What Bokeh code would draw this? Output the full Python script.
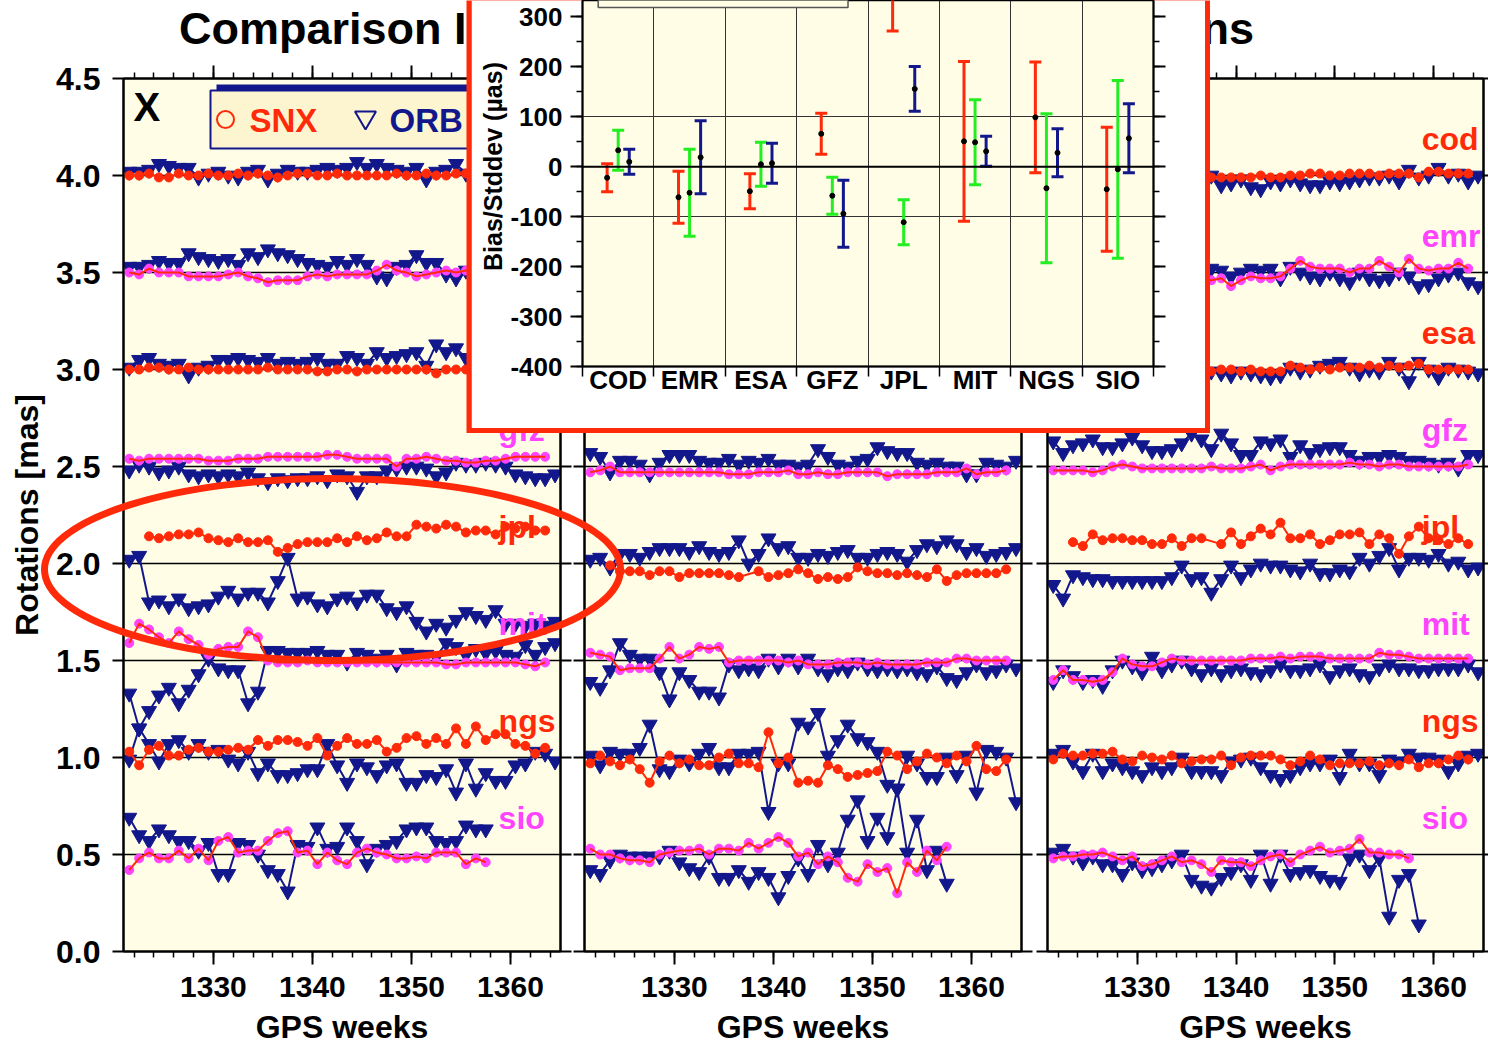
import math
from bokeh.plotting import figure
from bokeh.models import (Range1d, LinearAxis, SingleIntervalTicker, FixedTicker, Grid, Span,
                          CustomJSTickFormatter, PrintfTickFormatter, ColumnDataSource, GridBox, Label, Column)
from bokeh.transform import dodge
from bokeh.core.properties import value
from bokeh.embed import file_html
from bokeh.resources import INLINE

# ------------------------------------------------------------------ data
WEEKS = list(range(1321, 1365))          # GPS weeks (points are plotted at mid-week)
CENTERS = ["cod", "emr", "esa", "gfz", "jpl", "mit", "ngs", "sio"]
OFFSETS = [4.0, 3.5, 3.0, 2.5, 2.0, 1.5, 1.0, 0.5]
N = None
# residual rotations, units of 0.01 mas (None = no solution that week)
X_COD_SNX = [0,0,1,-1,-1,1,0,0,1,0, 0,1,0,1,0,-1,0,1,1,0, 0,1,0,0,0,0,0,1,0,0, 1,0,0,1,1,2,2,1,2,1, 1,1,1,1]
X_COD_ORB = [2,2,3,6,5,4,4,-1,1,2, 0,-1,2,3,-2,1,3,2,2,3, 4,3,4,7,4,6,4,3,2,4, -2,2,3,6,1,2,3,4,2,3, 1,2,3,2]
X_EMR_SNX = [0,-1,2,0,0,0,-2,-2,-2,-2, -1,0,-2,-3,-5,-4,-4,-4,-2,-1, -2,-1,-1,-1,-1,1,4,1,0,-2, -1,0,1,0,1,1,0,1,0,0, 1,0,0,0]
X_EMR_ORB = [3,3,4,6,5,5,10,8,7,6, 7,4,10,8,12,10,9,7,5,4, 3,6,4,7,4,-2,-3,3,4,9, 5,5,-1,-3,1,3,2,4,3,2, 4,3,2,3]
X_ESA_SNX = [0,0,1,1,0,0,1,0,0,0, 0,0,0,0,1,0,0,0,0,-1, -1,0,0,-1,0,0,0,0,0,0, 0,-2,0,0,0,0,0,1,0,0, 1,0,0,0]
X_ESA_ORB = [1,5,6,3,2,3,-3,1,2,5, 5,6,5,4,6,3,4,3,4,6, 3,3,7,6,3,9,6,7,8,9, 2,13,9,11,6,8,6,7,5,6, 4,5,6,5]
X_GFZ_SNX = [4,3,4,4,4,4,4,4,3,3, 3,4,4,4,5,5,5,5,5,5, 6,6,5,4,4,4,4,0,4,4, 5,4,3,3,2,2,3,3,4,5, 5,5,5,N]
X_GFZ_ORB = [-2,1,0,-3,-2,0,-4,-5,-4,-5, -4,-5,-3,-6,-8,-6,-7,-6,-6,-5, -7,-4,-5,-13,-5,-5,-2,-1,0,0, -1,-5,-3,2,1,1,2,1,0,-4, -5,-6,-6,-4]
X_JPL_SNX = [N,N,14,13,14,15,15,16,13,12, 11,13,11,11,12,6,8,10,11,11, 11,13,11,14,12,13,16,14,14,20, 19,18,20,19,16,17,17,15,19,18, 19,17,17,N]
X_JPL_ORB = [2,4,-20,-19,-22,-18,-23,-22,-21,-17, -14,-18,-15,-15,-20,-9,3,-18,-17,-21, -22,-18,-17,-20,-16,-16,-23,-25,-22,-30, -35,-31,-33,-29,-25,-27,-29,-24,-31,-31, -32,-31,-32,-30]
X_MIT_SNX = [9,19,16,12,9,15,11,8,3,6, 7,7,15,12,0,-1,-1,-1,0,-1, -1,-1,-1,-1,-1,-1,-1,-1,-1,-1, -1,-1,-2,-2,-1,-1,-1,-1,-1,-1, -2,-3,-1,N]
X_MIT_ORB = [-17,-35,-26,-18,-14,-22,-15,-7,1,-4, -5,-5,-22,-16,5,5,4,4,4,5, 3,3,-1,4,3,1,3,-2,4,3, 3,2,9,7,3,6,4,5,3,2, 8,3,7,9]
X_NGS_SNX = [3,-4,4,6,1,1,4,5,3,3, 4,5,4,9,6,9,9,8,6,10, 1,6,10,7,7,9,3,5,10,11, 7,10,7,15,7,16,9,12,12,7, 6,2,5,N]
X_NGS_ORB = [-1,15,7,-2,7,9,3,7,3,4, -1,-3,3,-8,-3,-9,-9,-8,-6,-6, 7,-4,-13,-3,-5,-9,-4,-3,-13,-13, -9,-10,-6,-18,-3,-16,-8,-12,-12,-4, -3,3,2,-2]
X_SIO_SNX = [-8,-2,1,-2,-2,2,-2,3,-3,7, 9,1,2,2,7,11,12,1,2,-5, 1,-3,-5,1,3,1,0,-2,-2,-1, -2,1,1,1,-5,-2,-4,N,N,N, N,N,N,N]
X_SIO_ORB = [19,10,7,13,10,7,7,2,6,-10, -10,6,5,0,-8,-10,-19,5,4,14, 3,4,14,7,-5,3,5,7,13,14, 14,7,6,7,15,13,13,N,N,N, N,N,N,N]

Y_COD_SNX = [1,0,1,0,-1,0,1,0,0,1, 0,-1,0,0,1,0,0,-1,0,1, 0,0,1,0,-1,0,0,1,0,0, -1,0,1,0,0,1,0,0,-1,0, 1,0,0,N]
Y_COD_ORB = [3,2,4,1,3,5,2,3,4,2, 1,3,5,3,2,4,3,1,2,4, 3,5,2,3,1,4,3,2,5,3, 2,4,3,1,3,4,2,3,5,2, 3,4,2,3]
Y_EMR_SNX = [0,-1,1,0,-2,-1,0,1,2,0, -1,-2,0,1,0,-1,1,2,1,0, -1,0,1,0,-2,-1,0,1,0,0, 1,2,1,0,-1,0,1,0,-1,0, 1,0,0,N]
Y_EMR_ORB = [4,6,3,5,8,4,2,5,7,3, 6,4,2,5,3,7,4,6,3,2, 5,8,4,3,6,2,5,4,7,3, 5,2,4,6,3,5,4,2,6,3, 4,5,3,4]
Y_ESA_SNX = [0,0,1,0,0,-1,0,0,1,0, 0,0,-1,0,1,0,0,0,1,0, 0,-1,0,0,0,1,0,0,0,-1, 0,0,1,0,0,0,1,0,0,0, -1,0,0,N]
Y_ESA_ORB = [5,3,6,4,7,5,3,6,8,4, 5,7,3,6,4,5,8,6,4,3, 6,5,7,4,3,6,5,8,4,6, 3,5,7,4,6,5,3,6,4,5, 7,4,5,6]
Y_GFZ_SNX = [-3,-2,0,-3,-3,-3,-3,-3,-3,-3, -3,-3,-3,-3,-4,-4,-4,-3,-3,-3, -2,-4,-4,-3,-4,-4,-3,-3,-3,-3, -5,-4,-4,-4,-4,-3,-3,-3,-1,-4, -3,-3,-2,N]
Y_GFZ_ORB = [7,5,-3,3,3,1,-4,2,6,6, 6,3,2,2,4,1,3,2,4,1, 1,0,1,9,5,1,0,3,4,10, 8,7,7,2,1,2,0,0,-4,-4, 2,1,0,3]
Y_JPL_SNX = [N,N,-1,-4,-4,-4,-6,-4,-4,-7, -5,-5,-5,-5,-6,-7,N,-4,-7,-6, -5,-3,-5,-8,-7,-8,-7,-2,-4,-5, -5,-6,-5,-6,-7,-3,-9,-6,-5,-5, -5,-5,-3,N]
Y_JPL_ORB = [2,3,-2,5,5,3,6,8,8,8, 6,9,6,5,6,12,0,5,13,8, 9,3,3,5,4,6,7,3,3,5, 6,5,1,7,10,9,12,10,6,8, 4,5,6,8]
Y_MIT_SNX = [4,3,2,-5,-4,-4,-4,1,7,1, 3,7,6,7,-1,0,0,0,0,0, -1,0,-2,-2,-2,-1,-1,-1,-2,-1, -2,-2,-2,-2,-1,-1,-1,1,1,0, 0,0,0,N]
Y_MIT_ORB = [-11,-14,-5,9,3,1,1,-6,-20,-6, -10,-16,-16,-19,-2,-5,-4,-5,1,-3, 1,-3,1,-4,-7,-4,-5,-1,-4,-5, -4,-5,-4,-6,-7,-3,-9,-10,-6,-2, -6,-5,-2,-4]
Y_NGS_SNX = [-3,1,-2,-4,-1,-6,-13,-2,1,-3, -1,-4,-4,0,2,-3,-3,-5,13,-3, 0,-13,-12,-13,-4,-6,-10,-9,-8,-7, 3,1,-6,-2,2,0,-3,1,-2,6, -6,-7,-1,N]
Y_NGS_ORB = [1,-4,3,2,2,5,17,-6,-7,-1, -3,2,5,-5,-5,2,2,3,-28,-3, -3,18,16,23,1,9,17,10,8,3, -14,-16,1,-3,-10,-10,0,-9,1,-18, 4,3,0,-23]
Y_SIO_SNX = [3,0,0,-2,-3,-3,-4,0,1,2, 2,3,0,3,3,2,6,3,6,9, 6,-1,1,-5,-1,-4,-12,-14,-5,-9, -7,-20,-4,-9,2,-3,4,N,N,N, N,N,N,N]
Y_SIO_ORB = [-8,-10,-3,0,-1,-1,-1,-1,2,-4, -7,-9,-1,-12,-12,-8,-14,-9,-12,-22, -11,-2,-10,5,-5,1,18,28,7,19, 9,34,1,18,-8,2,-15,N,N,N, N,N,N,N]

Z_COD_SNX = [-2,-2,-1,-2,-1,-2,-1,-1,-2,-1, -2,-1,-1,-2,-1,-1,-1,-1,-1,-1, -1,0,-1,-1,0,0,1,1,0,0, 1,1,1,0,1,1,1,-1,2,2, 1,1,1,N]
Z_COD_ORB = [-3,-4,-2,-5,-3,-4,-3,-5,-4,-3, -4,-2,-3,-4,-3,-2,0,-5,-4,-2, -6,-7,-3,-4,-2,-4,-5,-5,-3,-4, -3,-2,-1,-1,0,-3,3,-1,0,4, 0,1,-3,0]
Z_EMR_SNX = [0,-1,0,-2,-1,-3,-2,-3,-2,-4, -3,-2,-3,-4,-3,-4,-4,-3,-7,-4, -2,-3,-3,-2,2,6,3,2,2,2, 0,2,2,6,3,0,7,2,1,2, 2,5,2,N]
Z_EMR_ORB = [2,3,1,2,0,1,2,1,0,2, 1,0,1,-1,0,1,2,1,-2,0, 2,1,2,-3,3,0,-2,-3,0,-3, -5,0,-3,-4,-3,0,-2,-7,-6,-3, -1,0,-5,-7]
Z_ESA_SNX = [0,0,1,0,-1,0,0,1,0,0, -1,0,0,1,0,0,-1,0,0,-1, 0,-1,-1,-1,2,1,0,1,0,1, 1,1,2,1,2,1,2,3,0,0, 0,0,0,N]
Z_ESA_ORB = [1,-1,0,-2,-1,0,-3,-1,0,-2, -1,-3,0,-1,-2,-1,-1,-2,-3,-1, -2,-3,-4,-3,1,-1,0,2,3,4, 1,-2,0,-1,4,1,-6,4,0,-4, 1,0,-1,-2]
Z_GFZ_SNX = [-2,-2,-2,-2,-3,-2,0,1,0,-1, -1,-1,-1,-1,-1,-1,0,-1,-1,-1, 0,1,-2,0,1,1,1,1,1,1, 2,1,1,0,1,1,0,0,0,0, 0,0,1,N]
Z_GFZ_ORB = [13,7,11,12,14,10,10,12,15,11, 8,8,9,12,17,14,9,17,12,6, 6,13,12,14,5,11,7,9,10,10, 6,3,5,5,6,5,3,3,2,1, 2,-1,6,6]
Z_JPL_SNX = [N,N,11,9,15,12,13,13,12,12, 10,10,13,9,13,13,N,10,16,10, 14,18,15,21,13,13,15,10,12,15, 15,16,10,15,13,5,14,19,13,12, 10,13,10,N]
Z_JPL_ORB = [-11,-18,-6,-7,-8,-8,-9,-9,-9,-9, -9,-9,-7,-1,-8,-7,-15,-8,-1,-7, -3,0,-1,-1,-3,-4,0,-5,-5,-3, -4,3,0,4,8,-3,3,3,2,5, 0,1,-3,-2]
Z_MIT_SNX = [-10,-5,-10,-10,-11,-10,-6,1,-2,-3, -3,-1,1,0,0,0,0,0,0,0, 1,1,1,2,1,2,2,2,1,1, 1,1,1,4,3,3,2,1,1,1, 1,1,1,N]
Z_MIT_ORB = [-11,-5,-8,-11,-10,-13,-5,0,-3,-6, 2,-5,-2,0,-4,-7,-4,-7,-5,-4, -6,-7,-5,-2,-5,-5,-4,-2,-8,-5, -4,-7,-8,-4,-2,-4,-4,-5,-5,-4, -4,-4,-2,-6]
Z_NGS_SNX = [-1,2,1,1,2,2,3,-1,-2,1, 0,-1,1,-3,-2,-1,-1,1,-4,0, 1,1,1,-1,-4,-2,1,-1,-4,-3, -3,-3,-2,-4,-3,-4,-1,-5,-3,-3, -1,1,-1,N]
Z_NGS_ORB = [2,4,-2,-7,2,-7,-3,-5,-7,-9, -5,-7,-5,0,-7,-7,-7,-9,-2,-1, 0,-5,-9,-11,-9,-5,-3,-3,-1,-10, 2,-3,-3,-9,-1,-2,2,0,0,-1, -7,-3,1,2]
Z_SIO_SNX = [-2,-1,-1,0,0,1,-1,-3,-1,-6, -5,-3,-1,-4,-3,-5,-9,-3,-4,-4, -6,-3,-1,0,-4,0,2,4,1,2, 3,8,1,1,0,0,-2,N,N,N, N,N,N,N]
Z_SIO_ORB = [1,3,-1,-4,-1,-5,-5,-10,-4,-8, -7,-5,-3,0,-13,-16,-17,-12,-9,-5, -13,0,-15,0,-10,-9,-8,-11,-13,-14, -2,0,-8,-2,-32,-13,-10,-36,N,N, N,N,N,N]

# inset: bias and stddev (uas) per analysis centre, for X / Y / Z rotation
INSET_CENTERS = ["COD", "EMR", "ESA", "GFZ", "JPL", "MIT", "NGS", "SIO"]
RX_BIAS = [-22, -61, -49, 66, 390, 51, 99, -45]
RX_STD = [28, 52, 35, 41, 118, 160, 111, 124]
RY_BIAS = [33, -52, 5, -58, -111, 49, -43, -5]
RY_STD = [40, 87, 44, 37, 45, 85, 149, 178]
RZ_BIAS = [10, 19, 7, -94, 156, 31, 28, 57]
RZ_STD = [25, 73, 40, 67, 45, 30, 48, 69]

TITLE = "Comparison IGS Final Orbits and SINEX Rotations"

# ------------------------------------------------------------------ style
FONT = "Liberation Sans"
RED = "#ff2a0a"
MAG = "#ff44ff"
NAVY = "#12188c"
GREEN = "#22ee22"
IVORY = "#fffde6"
W, H = 1488, 1045
FT, FB = 78, 951                      # frame top / bottom (px)
PANEL_LR = [(123, 560), (584, 1021), (1047, 1483)]
XMIN, XMAX = 1320.92, 1365.05
SNX_MARK = {"cod": RED, "emr": MAG, "esa": RED, "gfz": MAG,
            "jpl": RED, "mit": MAG, "ngs": RED, "sio": MAG}

BLANK = CustomJSTickFormatter(code="return ''")


def style_axis(ax, tick_out, minor_out=0, size="30px", standoff=12):
    ax.axis_line_color = "black"
    ax.axis_line_width = 2
    ax.major_tick_line_color = "black"
    ax.major_tick_line_width = 2
    ax.major_tick_in = 0
    ax.major_tick_out = tick_out
    ax.minor_tick_line_color = "black"
    ax.minor_tick_line_width = 1.5
    ax.minor_tick_in = 0
    ax.minor_tick_out = minor_out
    ax.major_label_text_font = FONT
    ax.major_label_text_font_style = "bold"
    ax.major_label_text_font_size = size
    ax.major_label_text_color = "black"
    ax.major_label_standoff = standoff
    ax.axis_label_text_color = "black"


def xy(vals, off):
    xs, ys = [], []
    for w, v in zip(WEEKS, vals):
        if v is not None:
            xs.append(w + 0.5)
            ys.append(off + v / 100.0)
    return xs, ys


def bare(width, height, xr, yr, fill=None):
    f = figure(width=width, height=height, x_range=xr, y_range=yr,
               x_axis_type=None, y_axis_type=None, output_backend="svg", toolbar_location=None, min_border=0)
    f.border_fill_color = fill
    f.background_fill_color = fill
    f.outline_line_color = None
    return f


def make_panel(idx, series, show_names):
    fl, fr = PANEL_LR[idx]
    p = figure(width=W, height=H, x_range=Range1d(XMIN, XMAX), y_range=Range1d(0, 4.5),
               x_axis_type=None, y_axis_type=None, output_backend="svg", toolbar_location=None,
               min_border_left=fl, min_border_right=W - fr, min_border_top=FT, min_border_bottom=H - FB)
    p.border_fill_color = "white" if idx == 0 else None
    p.background_fill_color = IVORY
    p.outline_line_color = "black"
    p.outline_line_width = 2

    xt = SingleIntervalTicker(interval=10, num_minor_ticks=5)
    yt = SingleIntervalTicker(interval=0.5, num_minor_ticks=0)
    p.add_layout(Grid(dimension=1, ticker=yt, grid_line_color="black", grid_line_width=1.5))

    bx = LinearAxis(ticker=xt)
    style_axis(bx, 13, 6, "30px", 12)
    p.add_layout(bx, "below")
    tx = LinearAxis(ticker=xt, formatter=BLANK)
    style_axis(tx, 13, 6, "1px", 0)
    p.add_layout(tx, "above")

    if idx == 0:
        ly = LinearAxis(ticker=yt, formatter=PrintfTickFormatter(format="%.1f"),
                        axis_label="Rotations [mas]")
        style_axis(ly, 11, 0, "32px", 12)
        ly.axis_label_text_font = FONT
        ly.axis_label_text_font_style = "bold"
        ly.axis_label_text_font_size = "32px"
        ly.axis_label_standoff = 8
    else:
        ly = LinearAxis(ticker=yt, formatter=BLANK)
        style_axis(ly, 11, 0, "1px", 0)
    p.add_layout(ly, "left")
    ry = LinearAxis(ticker=yt, formatter=BLANK)
    style_axis(ry, 5 if idx == 2 else 11, 0, "1px", 0)
    p.add_layout(ry, "right")

    for name, off, (snx, orb) in zip(CENTERS, OFFSETS, series):
        xs, ys = xy(orb, off)
        p.line(xs, ys, line_color=NAVY, line_width=2)
        p.scatter(xs, ys, marker="inverted_triangle", size=15, fill_color=NAVY, line_color=NAVY)
        xs, ys = xy(snx, off)
        mc = SNX_MARK[name]
        p.scatter(xs, ys, marker="circle", size=9, fill_color=mc, line_color=mc)
        p.line(xs, ys, line_color=RED, line_width=2)
        if show_names:
            p.add_layout(Label(x=1358.8, y=off + 0.19, text=name, text_color=mc,
                               text_font=FONT, text_font_style="bold", text_font_size="32px",
                               text_align="left", text_baseline="alphabetic"))
    return p


SER_X = [(X_COD_SNX, X_COD_ORB), (X_EMR_SNX, X_EMR_ORB), (X_ESA_SNX, X_ESA_ORB), (X_GFZ_SNX, X_GFZ_ORB),
         (X_JPL_SNX, X_JPL_ORB), (X_MIT_SNX, X_MIT_ORB), (X_NGS_SNX, X_NGS_ORB), (X_SIO_SNX, X_SIO_ORB)]
SER_Y = [(Y_COD_SNX, Y_COD_ORB), (Y_EMR_SNX, Y_EMR_ORB), (Y_ESA_SNX, Y_ESA_ORB), (Y_GFZ_SNX, Y_GFZ_ORB),
         (Y_JPL_SNX, Y_JPL_ORB), (Y_MIT_SNX, Y_MIT_ORB), (Y_NGS_SNX, Y_NGS_ORB), (Y_SIO_SNX, Y_SIO_ORB)]
SER_Z = [(Z_COD_SNX, Z_COD_ORB), (Z_EMR_SNX, Z_EMR_ORB), (Z_ESA_SNX, Z_ESA_ORB), (Z_GFZ_SNX, Z_GFZ_ORB),
         (Z_JPL_SNX, Z_JPL_ORB), (Z_MIT_SNX, Z_MIT_ORB), (Z_NGS_SNX, Z_NGS_ORB), (Z_SIO_SNX, Z_SIO_ORB)]

p1 = make_panel(0, SER_X, True)
p2 = make_panel(1, SER_Y, False)
p3 = make_panel(2, SER_Z, True)

# ------------------------------------------------------------------ annotation layer (canvas pixels)
ov = bare(W, H, Range1d(0, W), Range1d(H, 0))


def ov_text(x, y, t, color="black", size="32px", align="left", baseline="middle"):
    ov.text(x=[x], y=[y], text=[t], text_color=color, text_font=value(FONT), text_font_style="bold",
            text_font_size=size, text_align=align, text_baseline=baseline)


ov_text(716, 28, TITLE, size="45px", align="center")
ov_text(133, 106, "X", size="40px")
for fl, fr in PANEL_LR:
    ov_text((fl + fr) / 2, 1044, "GPS weeks", size="32px", align="center", baseline="bottom")
# legend box
ov.quad(left=[216], right=[470], top=[84], bottom=[142], fill_color=NAVY, line_color=None)
ov.quad(left=[210], right=[470], top=[90], bottom=[148], fill_color="#fcf5d0", line_color=NAVY, line_width=2)
ov.scatter(x=[225], y=[119], marker="circle", size=17, fill_color=None, line_color=RED, line_width=2)
ov_text(249, 120, "SNX", color=RED, size="33px")
ov.scatter(x=[365], y=[117], marker="inverted_triangle", size=21, fill_color=None, line_color=NAVY, line_width=2)
ov_text(389, 120, "ORB", color=NAVY, size="33px")
# highlight ellipse
ov.ellipse(x=[332], y=[569], width=[576], height=[182], fill_color=None, line_color=RED, line_width=7)

# ------------------------------------------------------------------ inset
ins = figure(width=734, height=428, x_range=Range1d(0, 8), y_range=Range1d(-400, 333),
             x_axis_type=None, y_axis_type=None, output_backend="svg", toolbar_location=None,
             min_border_left=111, min_border_right=52, min_border_top=0, min_border_bottom=62)
ins.border_fill_color = "white"
ins.background_fill_color = IVORY
ins.outline_line_color = "black"
ins.outline_line_width = 1.5

n_c = len(INSET_CENTERS)
ins.add_layout(Grid(dimension=1, ticker=FixedTicker(ticks=[-100, 100]), grid_line_color="#333333", grid_line_width=1))
ins.add_layout(Grid(dimension=0, ticker=FixedTicker(ticks=list(range(1, n_c))), grid_line_color="#333333", grid_line_width=1))
ins.add_layout(Span(location=0, dimension="width", line_color="black", line_width=2))

iyt = SingleIntervalTicker(interval=100, num_minor_ticks=2)
ily = LinearAxis(ticker=iyt, formatter=CustomJSTickFormatter(code="return String(Math.round(tick))"))
style_axis(ily, 12, 6, "26px", 8)
ins.add_layout(ily, "left")
iry = LinearAxis(ticker=iyt, formatter=BLANK)
style_axis(iry, 12, 6, "1px", 0)
ins.add_layout(iry, "right")
ibx = LinearAxis(ticker=FixedTicker(ticks=[i + 0.5 for i in range(n_c)], minor_ticks=list(range(n_c + 1))),
                 formatter=CustomJSTickFormatter(args=dict(names=INSET_CENTERS),
                                                 code="return names[Math.floor(tick)] || ''"))
style_axis(ibx, 0, 10, "26px", -12)
ins.add_layout(ibx, "below")

# hidden legend frame at the top of the inset
ins.quad(left=[0.22], right=[3.72], bottom=[319], top=[420], fill_color=IVORY, line_color="#555555", line_width=1.5)

src = ColumnDataSource(dict(
    cx=[i + 0.5 for i in range(n_c)],
    bx=RX_BIAS, lx=[b - s for b, s in zip(RX_BIAS, RX_STD)], hx=[b + s for b, s in zip(RX_BIAS, RX_STD)],
    by=RY_BIAS, ly=[b - s for b, s in zip(RY_BIAS, RY_STD)], hy=[b + s for b, s in zip(RY_BIAS, RY_STD)],
    bz=RZ_BIAS, lz=[b - s for b, s in zip(RZ_BIAS, RZ_STD)], hz=[b + s for b, s in zip(RZ_BIAS, RZ_STD)],
))
for comp, col, d in (("x", RED, -0.155), ("y", GREEN, 0.0), ("z", NAVY, 0.155)):
    xd = dodge("cx", d)
    ins.segment(x0=xd, y0="l" + comp, x1=xd, y1="h" + comp, source=src, line_color=col, line_width=3)
    ins.scatter(x=xd, y="l" + comp, source=src, marker="dash", size=12, line_color=col, line_width=3)
    ins.scatter(x=xd, y="h" + comp, source=src, marker="dash", size=12, line_color=col, line_width=3)
    ins.scatter(x=xd, y="b" + comp, source=src, marker="circle", size=5, fill_color="black", line_color="black")

# y title of the inset (centred on its full, partly cropped frame) - transparent strip on top
ylab = bare(44, 428, Range1d(0, 44), Range1d(0, 428))
ylab.add_layout(Label(x=21, y=428 - 166, text="Bias/Stddev (µas)", angle=math.pi / 2, text_color="black",
                      text_font=FONT, text_font_style="bold", text_font_size="25px",
                      text_align="center", text_baseline="middle"))

# red frame behind the inset
rb = bare(744, 433, Range1d(0, 1), Range1d(0, 1), fill=RED)


def wrap(fig):
    # wrapping keeps the grid from aligning the frames of the stacked figures
    return Column(children=[fig], spacing=0)


layout = GridBox(children=[(wrap(p1), 0, 0, 3, 5), (wrap(p2), 0, 0, 3, 5), (wrap(p3), 0, 0, 3, 5),
                           (wrap(ov), 0, 0, 3, 5), (wrap(rb), 0, 1, 2, 3), (wrap(ins), 0, 2, 1, 1),
                           (wrap(ylab), 0, 2, 1, 1)],
                 cols=["466px", "5px", "734px", "5px", "278px"],
                 rows=["428px", "5px", "612px"])

open("out.html", "w").write(file_html(layout, INLINE, title="Comparison IGS rotations"))
